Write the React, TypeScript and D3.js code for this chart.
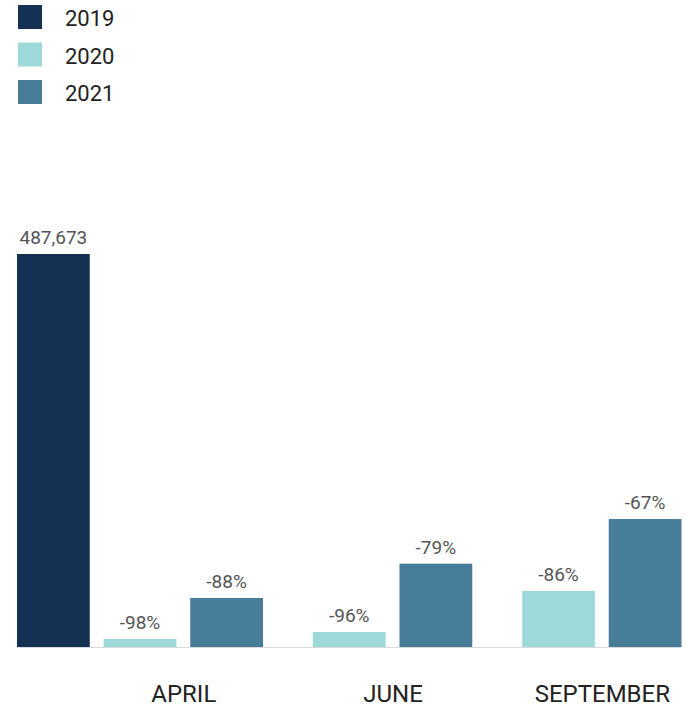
import React from "react";
import * as d3 from "d3";

const months = ["APRIL", "JUNE", "SEPTEMBER"];
const years = ["2019", "2020", "2021"];
const values2019: (number | null)[] = [487673, null, null];
const values2020: (number | null)[] = [9900, 18600, 69500];
const values2021: (number | null)[] = [60800, 103400, 158800];
const labels2019: (string | null)[] = ["487,673", null, null];
const labels2020: (string | null)[] = ["-98%", "-96%", "-86%"];
const labels2021: (string | null)[] = ["-88%", "-79%", "-67%"];
const colors = ["#143053", "#9dd9d8", "#477d98"];

const W = 687;
const H = 707;

export default function App() {
  const series = [
    { year: years[0], values: values2019, labels: labels2019, color: colors[0] },
    { year: years[1], values: values2020, labels: labels2020, color: colors[1] },
    { year: years[2], values: values2021, labels: labels2021, color: colors[2] },
  ];
  const outer = d3.scalePoint<string>().domain(months).range([17, 435.5]);
  const inner = d3.scaleBand<string>().domain(years).range([0, 246]).paddingInner(0.16);
  const maxV = d3.max(values2019.filter((v) => v != null) as number[]) as number;
  const y = d3.scaleLinear().domain([0, maxV]).range([647, 254]);
  const font = "Roboto, 'DejaVu Sans', sans-serif";

  return (
    <svg width={W} height={H} style={{ position: "absolute", left: 0, top: 0 }} fontFamily={font}>
      {series.map((s, i) => (
        <g key={s.year}>
          <rect x={18} y={5 + i * 37.5} width={24} height={24} fill={s.color} />
          <text x={65} y={26 + i * 37.5} fontSize={22} fill="#222">
            {s.year}
          </text>
        </g>
      ))}
      <line x1={17} x2={681} y1={647.5} y2={647.5} stroke="#d9d9d9" strokeWidth={1} />
      {series.map((s) =>
        months.map((m, mi) => {
          const v = s.values[mi];
          if (v == null) return null;
          const x0 = (outer(m) as number) + (inner(s.year) as number);
          const bw = inner.bandwidth();
          return (
            <g key={s.year + m}>
              <rect x={x0} y={y(v)} width={bw} height={y(0) - y(v)} fill={s.color} />
              <text x={x0 + bw / 2} y={y(v) - 10} fontSize={19} fill="#555" textAnchor="middle">
                {s.labels[mi]}
              </text>
            </g>
          );
        })
      )}
      {months.map((m) => {
        const cx = (outer(m) as number) + (inner("2021") as number) - (inner.step() - inner.bandwidth()) / 2;
        return (
          <text key={m} x={cx + 0.5} y={702} fontSize={24} fill="#222" textAnchor="middle">
            {m}
          </text>
        );
      })}
    </svg>
  );
}
